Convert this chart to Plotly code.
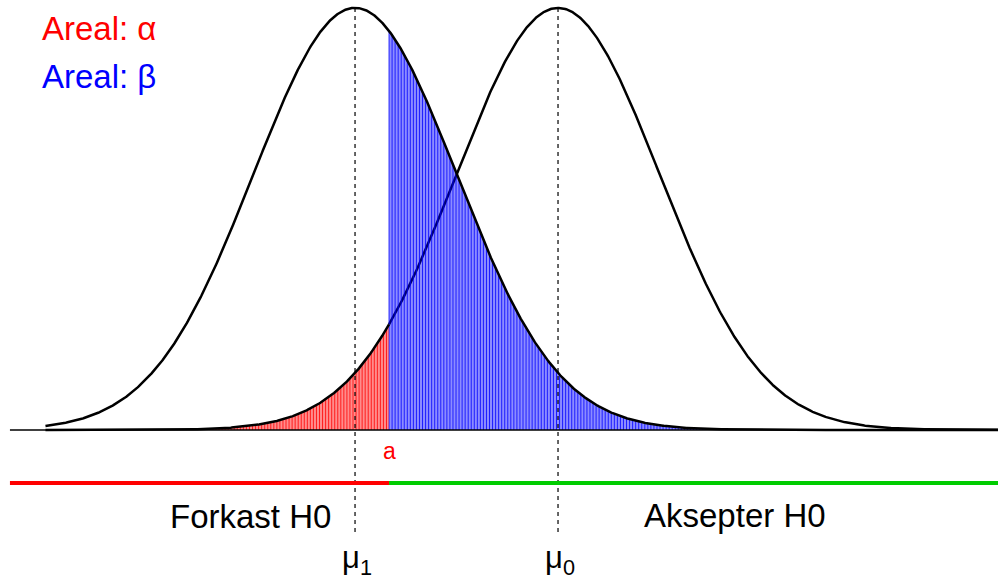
import numpy as np
import plotly.graph_objects as go

# --- data ---
mu_labels = ["μ<sub>1</sub>", "μ<sub>0</sub>"]
mu_values = [0.0, 2.0]          # mu1, mu0
sigma = 1.0
a_value = 0.335                 # critical value
area_labels = ["Areal: α", "Areal: β"]
area_colors = ["#ff0000", "#0000ff"]
region_labels = ["Forkast H0", "Aksepter H0"]
curve_range = [-3.05, 6.5]
stripe_step = 0.03

mu1, mu0 = mu_values

def dens(x, m):
    return np.exp(-0.5 * ((x - m) / sigma) ** 2) / (sigma * np.sqrt(2 * np.pi))

x = np.linspace(curve_range[0], curve_range[1], 1200)
y1 = dens(x, mu1)
y0 = dens(x, mu0)

FONT = "Liberation Sans, Arial, sans-serif"
fig = go.Figure()

# right curve part over the blue region (drawn beneath the blue fill)
m = x >= a_value
fig.add_trace(go.Scatter(x=x[m], y=y0[m], mode="lines",
                         line=dict(color="black", width=2.5), hoverinfo="skip"))

def add_region(xs, ys, fill, stripe):
    fig.add_trace(go.Scatter(
        x=np.concatenate([[xs[0]], xs, [xs[-1]]]),
        y=np.concatenate([[0], ys, [0]]),
        mode="lines", fill="toself", fillcolor=fill,
        line=dict(width=0), hoverinfo="skip"))
    sx = np.arange(xs[0], xs[-1], stripe_step)
    sy = np.interp(sx, xs, ys)
    lx, ly = [], []
    for xi, yi in zip(sx, sy):
        lx += [xi, xi, None]
        ly += [0, yi, None]
    fig.add_trace(go.Scatter(x=lx, y=ly, mode="lines",
                             line=dict(color=stripe, width=0.8), hoverinfo="skip"))

# blue region: left curve (mu1) right of a
mb = x >= a_value
xb = np.concatenate([[a_value], x[mb]])
yb = np.concatenate([[dens(a_value, mu1)], y1[mb]])
add_region(xb, yb, "rgba(0,0,255,0.45)", "#0000ff")

# red region: right curve (mu0) left of a
mr = x <= a_value
xr = np.concatenate([x[mr], [a_value]])
yr = np.concatenate([y0[mr], [dens(a_value, mu0)]])
add_region(xr, yr, "rgba(255,0,0,0.45)", "#ff0000")

# left curve
fig.add_trace(go.Scatter(x=x, y=y1, mode="lines",
                         line=dict(color="black", width=2.5), hoverinfo="skip"))
# right curve left of a (on top of red)
fig.add_trace(go.Scatter(x=xr, y=yr, mode="lines",
                         line=dict(color="black", width=2.5), hoverinfo="skip"))

# baseline
fig.add_trace(go.Scatter(x=[-3.40, 6.5], y=[0, 0], mode="lines",
                         line=dict(color="black", width=1.5), hoverinfo="skip"))

# dashed mean lines
for mv in mu_values:
    fig.add_trace(go.Scatter(x=[mv, mv], y=[dens(mv, mv), -0.099], mode="lines",
                             line=dict(color="black", width=1.2, dash="4px,4px"),
                             hoverinfo="skip"))

# decision lines
fig.add_trace(go.Scatter(x=[-3.40, a_value], y=[-0.0501, -0.0501], mode="lines",
                         line=dict(color="#ff0000", width=4), hoverinfo="skip"))
fig.add_trace(go.Scatter(x=[a_value, 6.5], y=[-0.0501, -0.0501], mode="lines",
                         line=dict(color="#00cc00", width=4), hoverinfo="skip"))

ann = []
ann.append(dict(x=-3.105, y=0.379, text=area_labels[0], showarrow=False,
                xanchor="left", yanchor="middle",
                font=dict(family=FONT, size=33, color=area_colors[0])))
ann.append(dict(x=-3.105, y=0.3345, text=area_labels[1], showarrow=False,
                xanchor="left", yanchor="middle",
                font=dict(family=FONT, size=33, color=area_colors[1])))
ann.append(dict(x=a_value, y=-0.0195, text="a", showarrow=False,
                xanchor="center", yanchor="middle",
                font=dict(family=FONT, size=23, color="#ff0000")))
ann.append(dict(x=-1.03, y=-0.0822, text=region_labels[0], showarrow=False,
                xanchor="center", yanchor="middle",
                font=dict(family=FONT, size=33, color="black")))
ann.append(dict(x=3.74, y=-0.0805, text=region_labels[1], showarrow=False,
                xanchor="center", yanchor="middle",
                font=dict(family=FONT, size=33, color="black")))
for lab, mv in zip(mu_labels, mu_values):
    ann.append(dict(x=mv + 0.02, y=-0.1225, text=lab, showarrow=False,
                    xanchor="center", yanchor="middle",
                    font=dict(family=FONT, size=31, color="black")))

fig.update_layout(
    width=998, height=582,
    margin=dict(l=0, r=0, t=0, b=0),
    paper_bgcolor="white", plot_bgcolor="white",
    showlegend=False,
    xaxis=dict(range=[-3.498, 6.335], visible=False, fixedrange=True),
    yaxis=dict(range=[-0.1437, 0.4064], visible=False, fixedrange=True),
    annotations=ann,
)

fig.write_html("out.html", config={"displayModeBar": False},
               post_script="document.body.style.margin='0';document.body.style.overflow='hidden';")
